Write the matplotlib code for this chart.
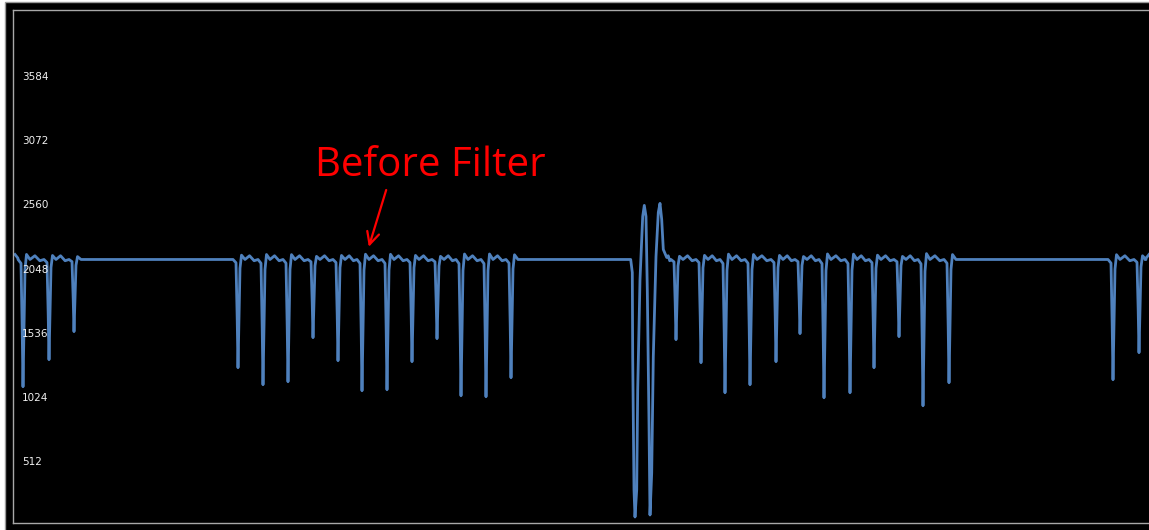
"""ECG-style trace before filtering, drawn on a black scope-like panel."""

import matplotlib

matplotlib.use("Agg")
import matplotlib.pyplot as plt
from matplotlib.patches import Rectangle

W, H = 1149, 530

# ---- data (sample index, ADC value) ----
baseline = 2104

dip_pos = [10, 36, 61, 225, 250, 275, 300, 325, 349, 374, 399, 424, 448, 473, 498,
           663, 688, 712, 737, 763, 787, 811, 837, 861, 886, 910, 936, 1100, 1126]
dip_val = [1088, 1304, 1528, 1240, 1104, 1128, 1480, 1296, 1056, 1064, 1288, 1472,
           1016, 1008, 1160, 1464, 1280, 1040, 1104, 1288, 1512, 1000, 1040, 1240,
           1488, 936, 1120, 1144, 1360]

# the large artefact in the middle of the record
burst_pos = [617.7, 619.3, 619.7, 621, 622, 623.7, 624.7, 627, 629.7, 631.3, 633,
             634.3, 636, 637, 638.7, 640.3, 643, 645.3, 647, 648.7, 650.3, 653.7]
burst_val = [2104, 2000, 1328, 264, 48, 264, 1064, 1944, 2448, 2536, 2448,
             1864, 800, 64, 400, 1328, 2128, 2480, 2552, 2424, 2184, 2120]

# shape of one beat, relative to its lowest point
beat_dx = [-5, -2, -0.8, 0, 0.9, 2, 3.5, 7]
beat_frac = [0.0, 0.03, 0.55, 1.0, 0.6, 0.08, -0.04, 0.0]

y_ticks = [512, 1024, 1536, 2048, 2560, 3072, 3584]

x_start, x_end = 2, 1136


def build_trace():
    xs, vs = [x_start, x_start + 3], [baseline + 40, baseline + 10]
    events = [(p, "dip", v) for p, v in zip(dip_pos, dip_val)]
    events.append((burst_pos[0], "burst", None))
    events.sort(key=lambda e: e[0])
    prev_end = xs[-1]
    for pos, kind, val in events:
        start = pos - 5 if kind == "dip" else burst_pos[0]
        gap = start - prev_end
        if 0 < gap < 40:
            # small T-wave hump between close beats
            xs += [prev_end + gap * 0.35, prev_end + gap * 0.7]
            vs += [baseline + 30, baseline - 10]
        if kind == "dip":
            depth = baseline - val
            for dx, f in zip(beat_dx, beat_frac):
                xs.append(pos + dx)
                vs.append(baseline - f * depth)
        else:
            xs += burst_pos
            vs += burst_val
        prev_end = xs[-1]
    xs += [x_end - 4, x_end]
    vs += [baseline, baseline + 40]
    return xs, vs


trace_x, trace_v = build_trace()

fig = plt.figure(figsize=(W / 100, H / 100), dpi=100, facecolor="white")
fig.patches.append(Rectangle((5 / W, -0.02), 1.0, (H - 2) / H + 0.02,
                             transform=fig.transFigure, facecolor="black",
                             edgecolor="#9a9a9a", linewidth=1.0, zorder=-5))

ax = fig.add_axes([13 / W, 7 / H, (W - 13) / W, 513 / H])
ax.set_zorder(2)
ax.set_facecolor("black")
ax.plot(trace_x, trace_v, color="#4f81bd", linewidth=2.0, solid_joinstyle="round")
ax.set_xlim(0, W - 13)
ax.set_ylim(0, 4096)
ax.set_xticks([])
ax.set_yticks([])
for side in ("left", "top", "bottom"):
    ax.spines[side].set_color("#a8a8a8")
    ax.spines[side].set_linewidth(1.0)
ax.spines["right"].set_visible(False)

for t in y_ticks:
    ax.text(9 / (W - 13), t - 24, str(t), transform=ax.get_yaxis_transform(),
            color="#f0f0f0", fontsize=7.5, ha="left", va="center")

ax.text(417, 2772, "Before Filter", color="#ff0000", fontsize=29,
        family="Open Sans", ha="center", va="baseline")
ax.annotate("", xy=(355, 2184), xytext=(374, 2680),
            arrowprops=dict(arrowstyle="->", color="#ff0000", lw=1.6,
                            mutation_scale=22))

fig.savefig("out.png", dpi=100, facecolor=fig.get_facecolor())
